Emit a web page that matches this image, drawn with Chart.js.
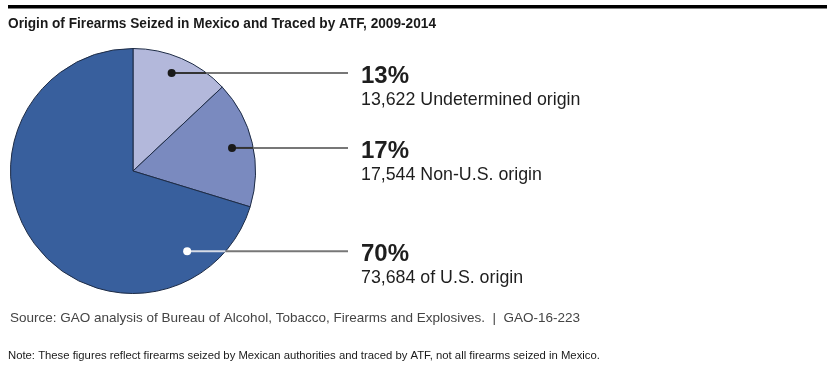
<!DOCTYPE html>
<html>
<head>
<meta charset="utf-8">
<script src="https://cdn.jsdelivr.net/npm/chart.js@4/dist/chart.umd.min.js"></script>
<style>
  html, body { margin: 0; padding: 0; background: #fff; }
  canvas { display: block; }
</style>
</head>
<body>
<canvas id="pie" width="831" height="368"></canvas>
<script>
// ── Data ──────────────────────────────────────────────────────────────────────
const categories = ["Undetermined origin", "Non-U.S. origin", "of U.S. origin"];
const counts     = [13622, 17544, 73684];
const sliceColors = ["#b3b8db", "#7a8abf", "#385f9d"];

const TITLE  = "Origin of Firearms Seized in Mexico and Traced by ATF, 2009-2014";
const SOURCE = "Source: GAO analysis of Bureau of Alcohol, Tobacco, Firearms and Explosives.  |  GAO-16-223";
const NOTE   = "Note: These figures reflect firearms seized by Mexican authorities and traced by ATF, not all firearms seized in Mexico.";

// where each callout dot sits inside its slice: t = fraction along the arc, r = fraction of radius
const dotSpots = [
  { t: 0.46, r: 0.86, fill: "#1a1a1a" },
  { t: 0.50, r: 0.83, fill: "#1a1a1a" },
  { t: 0.154, r: 0.79, fill: "#ffffff" },
];

const FONT = '"Liberation Sans", Arial, Helvetica, sans-serif';
const LABEL_X = 361;
const LINE_END = 348;

// ── Callouts + page text ──────────────────────────────────────────────────────
const decor = {
  id: "decor",
  afterDraw(chart) {
    const ctx = chart.ctx;
    const meta = chart.getDatasetMeta(0);
    const total = counts.reduce((a, b) => a + b, 0);

    ctx.save();
    // top rule
    ctx.fillStyle = "#000";
    ctx.fillRect(8, 5, 819, 3.5);

    ctx.textBaseline = "alphabetic";
    ctx.textAlign = "left";
    ctx.fillStyle = "#1a1a1a";
    ctx.font = `bold 14px ${FONT}`;
    ctx.fillText(TITLE, 8, 28, 428);

    ctx.fillStyle = "#444";
    ctx.font = `13.5px ${FONT}`;
    ctx.fillText(SOURCE, 10, 322, 573);

    ctx.fillStyle = "#1a1a1a";
    ctx.font = `11.3px ${FONT}`;
    ctx.fillText(NOTE, 8, 359, 594);

    meta.data.forEach((arc, i) => {
      const p = arc.getProps(["x", "y", "startAngle", "endAngle", "outerRadius"], true);
      const spot = dotSpots[i];
      const a = p.startAngle + (p.endAngle - p.startAngle) * spot.t;
      const dx = p.x + Math.cos(a) * p.outerRadius * spot.r;
      const dy = p.y + Math.sin(a) * p.outerRadius * spot.r;
      const edgeX = p.x + Math.sqrt(Math.max(p.outerRadius ** 2 - (dy - p.y) ** 2, 0));

      ctx.lineWidth = 2;
      // segment inside the slice, in the dot's colour
      ctx.strokeStyle = spot.fill === "#ffffff" ? "#d6dbe6" : "#333";
      ctx.beginPath();
      ctx.moveTo(dx, dy);
      ctx.lineTo(edgeX, dy);
      ctx.stroke();
      // segment outside the pie
      ctx.strokeStyle = "#777";
      ctx.beginPath();
      ctx.moveTo(edgeX, dy);
      ctx.lineTo(LINE_END, dy);
      ctx.stroke();

      ctx.fillStyle = spot.fill;
      ctx.beginPath();
      ctx.arc(dx, dy, 4, 0, Math.PI * 2);
      ctx.fill();

      const pct = Math.round(counts[i] / total * 100);
      ctx.fillStyle = "#1e1e1e";
      ctx.font = `bold 24px ${FONT}`;
      ctx.fillText(`${pct}%`, LABEL_X, dy + 10);
      ctx.font = `17.8px ${FONT}`;
      ctx.fillText(`${counts[i].toLocaleString("en-US")} ${categories[i]}`, LABEL_X, dy + 32);
    });
    ctx.restore();
  },
};

new Chart(document.getElementById("pie").getContext("2d"), {
  type: "pie",
  data: {
    labels: categories,
    datasets: [{
      data:             counts,
      backgroundColor:  sliceColors,
      borderColor:      "#1d2b45",
      borderWidth:      1,
      hoverBorderWidth: 1,
    }],
  },
  options: {
    responsive: false,
    animation:  false,
    devicePixelRatio: 1,
    layout: { padding: { left: 10, top: 48, right: 575, bottom: 74 } },
    plugins: {
      legend:  { display: false },
      tooltip: { enabled: false },
    },
  },
  plugins: [decor],
});
</script>
</body>
</html>
